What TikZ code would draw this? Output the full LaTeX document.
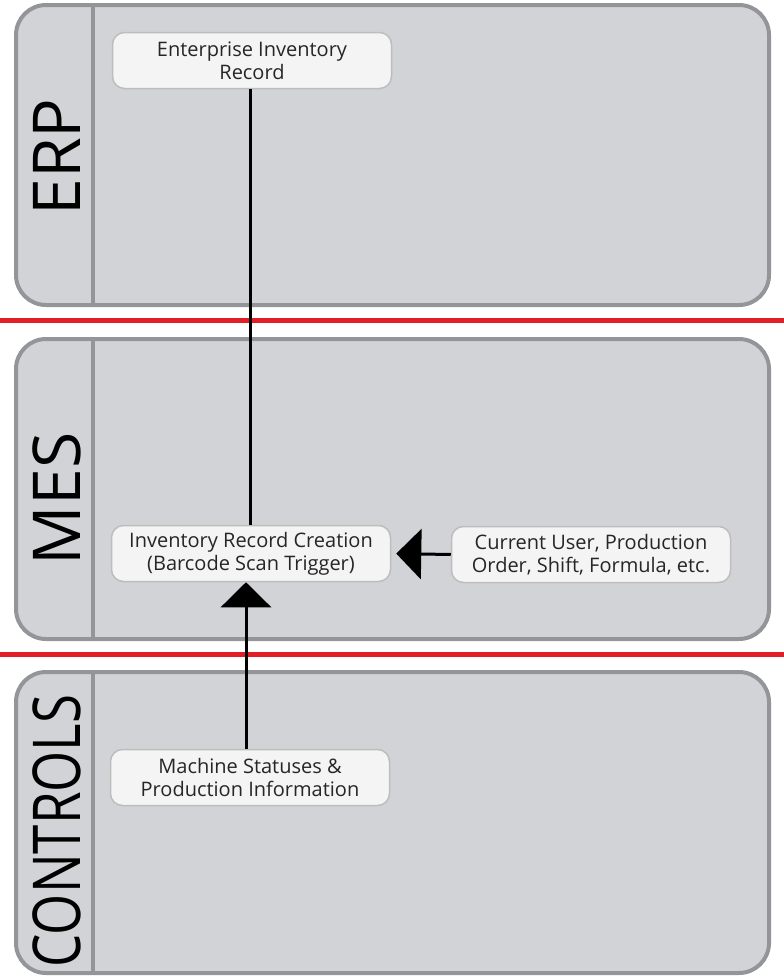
\documentclass[tikz,border=0pt]{standalone}
\usepackage{fontspec}
\setmainfont{Open Sans}
\usetikzlibrary{arrows.meta}
\definecolor{panelfill}{HTML}{D1D3D6}
\definecolor{panelline}{HTML}{939598}
\definecolor{boxfill}{HTML}{F4F4F4}
\definecolor{boxline}{HTML}{BDBDBD}
\definecolor{redline}{HTML}{E31E26}
\definecolor{boxtext}{HTML}{262626}
\tikzset{
  panel/.style={draw=panelline, fill=panelfill, line width=4pt, rounded corners=30pt},
  divider/.style={draw=panelline, line width=4pt},
  sep/.style={draw=redline, line width=5pt},
  lanelabel/.style={rotate=90, anchor=base, inner sep=0pt, font=\fontsize{66}{66}\selectfont},
  infobox/.style={draw=boxline, fill=boxfill, line width=1.5pt, rounded corners=12pt,
    minimum width=279pt, minimum height=56pt, align=center, inner sep=2pt,
    text=boxtext, font=\fontsize{20}{23}\selectfont},
  conn/.style={draw=black, line width=3pt},
  tri/.style={-{Triangle[width=50pt,length=25pt]}}
}
\begin{document}
\begin{tikzpicture}[x=1pt,y=-1pt]
\useasboundingbox (0,0) rectangle (784,977);
% panels
\draw[panel] (16,5) rectangle (769,305);
\draw[panel] (16,339) rectangle (769,639);
\draw[panel] (16,672) rectangle (769,973);
\draw[divider] (93,5) -- (93,305);
\draw[divider] (93,339) -- (93,639);
\draw[divider] (93,672) -- (93,973);
% red separators
\draw[sep] (0,320.5) -- (784,320.5);
\draw[sep] (0,654.5) -- (784,654.5);
% lane labels
\node[lanelabel] (lerp) at (80,157) {ERP};
\node[lanelabel] (lmes) at (80,499) {MES};
\node[lanelabel] (lctl) at (80,831) {\scalebox{0.8}[1]{CONTROLS}};
% boxes
\node[infobox] (erp) at (252,60.5) {Enterprise Inventory\\Record};
\node[infobox] (inv) at (251,553.5) {Inventory Record Creation\\(Barcode Scan Trigger)};
\node[infobox] (cur) at (591,554.5) {Current User, Production\\Order, Shift, Formula, etc.};
\node[infobox] (mach) at (250,777.5) {Machine Statuses \&\\Production Information};
% connectors
\draw[conn] ([xshift=-2pt]erp.south) -- ([xshift=-1pt]inv.north);
\draw[conn, tri, shorten >=5pt] (cur.west) -- (inv.east);
\draw[conn, tri] ([xshift=-4pt]mach.north) -- ([xshift=-5pt]inv.south);
\end{tikzpicture}
\end{document}
